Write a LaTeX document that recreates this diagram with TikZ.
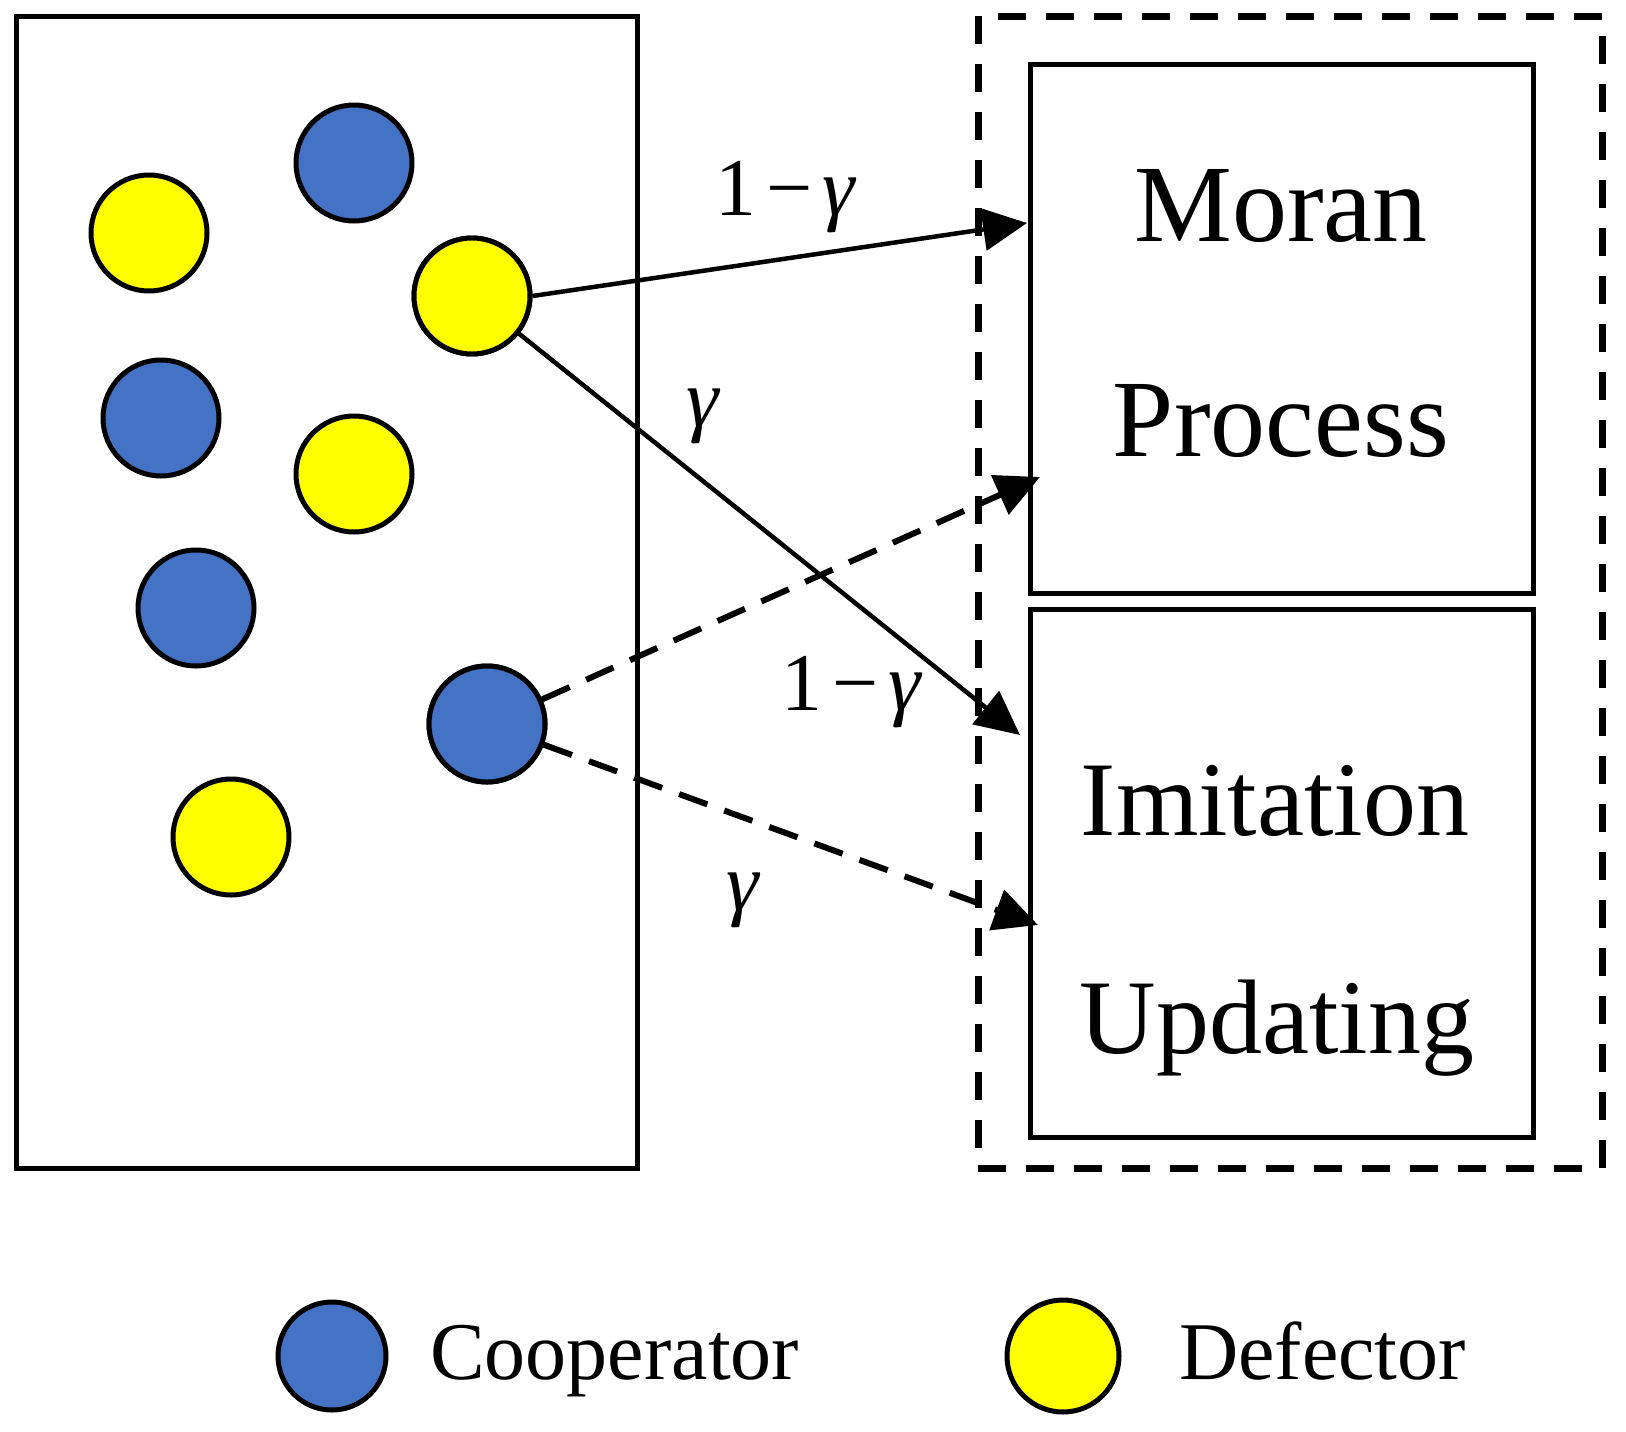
\documentclass[tikz,border=0pt]{standalone}
\usepackage{fontspec}
\setmainfont{Liberation Serif}
\usetikzlibrary{arrows.meta}
\definecolor{coop}{HTML}{4472C4}
\definecolor{defe}{HTML}{FFFF00}
\tikzset{
  agent/.style={circle, draw=black, line width=5pt, minimum size=116pt, inner sep=0pt},
  cooper/.style={agent, fill=coop},
  defect/.style={agent, fill=defe},
  frame/.style={draw=black, line width=5pt, inner sep=0pt},
  bigtxt/.style={anchor=base, inner sep=0pt, font=\fontsize{110}{120}\selectfont},
  lbl/.style={anchor=base, inner sep=0pt, font=\fontsize{82}{90}\selectfont},
  legtxt/.style={anchor=base west, inner sep=0pt, font=\fontsize{82}{90}\selectfont},
  tip/.style={-{Triangle[length=44pt,width=42pt]}},
  solidarrow/.style={tip, line width=4.5pt},
  dasharrow/.style={tip, line width=6pt, dash pattern=on 30pt off 18pt},
}
\begin{document}
\begin{tikzpicture}[x=1pt,y=-1pt]
\useasboundingbox (0,0) rectangle (1626,1432);
% frames
\node[frame, minimum width=621pt, minimum height=1152pt] (pop) at (326.5,592) {};
\node[draw=black, line width=7pt, dash pattern=on 28pt off 20pt, inner sep=0pt,
      minimum width=624pt, minimum height=1152pt] (rules) at (1290,592) {};
\node[frame, minimum width=503pt, minimum height=529pt] (moran) at (1281.5,328.5) {};
\node[frame, minimum width=503pt, minimum height=528pt] (imit) at (1281.5,873) {};
\node[bigtxt] (t1) at (1281,241) {Moran};
\node[bigtxt] (t2) at (1281,456) {Process};
\node[bigtxt, font=\fontsize{106}{120}\selectfont] (t3) at (1275,835) {Imitation};
\node[bigtxt, font=\fontsize{106}{120}\selectfont] (t4) at (1277,1053) {Updating};
% arrow tips
\coordinate (a1) at (1027,223);
\coordinate (a2) at (1020,735);
\coordinate (a3) at (1040,477);
\coordinate (a4) at (1038,925);
% agents
\node[defect] (y1) at (149,233) {};
\node[cooper] (b1) at (354,163) {};
\node[defect] (y2) at (472,296) {};
\node[cooper] (b2) at (161,418) {};
\node[defect] (y3) at (354,474) {};
\node[cooper] (b3) at (196,608) {};
\node[cooper] (b4) at (487,724) {};
\node[defect] (y4) at (231,837) {};
% connectors
\draw[solidarrow] (y2.east) -- (a1);
\draw[solidarrow] (y2) -- (a2);
\draw[dasharrow] (b4) -- (a3);
\draw[dasharrow] (b4) -- (a4);
% redraw agents on top
\node[defect] at (y2) {};
\node[cooper] at (b4) {};
% labels
\node[lbl] (l1) at (786,215) {1\hspace{10pt}−\hspace{10pt}\textit{γ}};
\node[lbl] (l2) at (704,426) {\textit{γ}};
\node[lbl] (l3) at (852,710) {1\hspace{10pt}−\hspace{10pt}\textit{γ}};
\node[lbl] (l4) at (744,910) {\textit{γ}};
% legend
\node[cooper, minimum size=108pt] (lc) at (332,1356) {};
\node[legtxt] (lct) at (430,1379) {Cooperator};
\node[defect, minimum size=112pt] (ld) at (1063,1356) {};
\node[legtxt] (ldt) at (1179,1379) {Defector};
\end{tikzpicture}
\end{document}
